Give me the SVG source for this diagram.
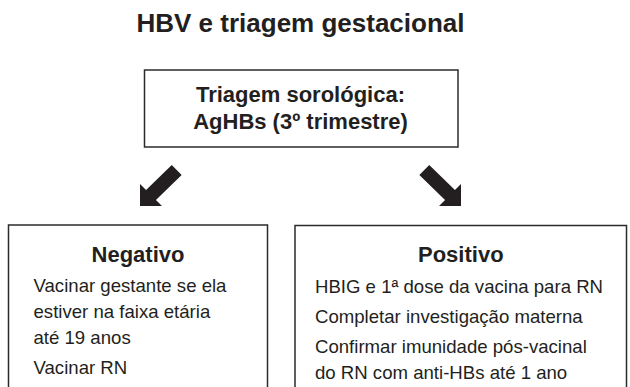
<svg xmlns="http://www.w3.org/2000/svg" width="630" height="387" viewBox="0 0 630 387">
  <style>
    .box { fill: #ffffff; stroke: #2b2b2b; stroke-width: 1.5; }
    .arrow { fill: #231f20; stroke: none; }
    text { font-family: "Liberation Sans", Arial, sans-serif; fill: #231f20; }
    .title { font-size: 26px; font-weight: bold; text-anchor: middle; }
    .head { font-size: 22px; font-weight: bold; text-anchor: middle; }
    .body { font-size: 18.6px; }
  </style>
  <rect width="630" height="387" fill="#ffffff"/>
  <g id="title">
    <text class="title" x="300.5" y="32">HBV e triagem gestacional</text>
  </g>
  <g id="connectors">
    <polygon class="arrow" points="171.75,165.05 181.65,174.95 155.95,199.95 162,206 140,206 140,184 146.05,190.05"/>
    <polygon class="arrow" points="429.25,165.05 419.35,174.95 445.05,199.95 439,206 461,206 461,184 454.95,190.05"/>
  </g>
  <g id="node-triagem">
    <rect class="box" x="144.5" y="70" width="313.5" height="77"/>
    <text class="head" x="300.5" y="101.5">Triagem sorológica:</text>
    <text class="head" x="300.5" y="129">AgHBs (3º trimestre)</text>
  </g>
  <g id="node-negativo">
    <rect class="box" x="8.5" y="225" width="259" height="200"/>
    <text class="head" x="138" y="262">Negativo</text>
    <text class="body" x="33.5" y="292">Vacinar gestante se ela</text>
    <text class="body" x="33.5" y="318">estiver na faixa etária</text>
    <text class="body" x="33.5" y="344">até 19 anos</text>
    <text class="body" x="33.5" y="374">Vacinar RN</text>
  </g>
  <g id="node-positivo">
    <rect class="box" x="295" y="225.5" width="331.5" height="200"/>
    <text class="head" x="460.8" y="262">Positivo</text>
    <text class="body" x="315" y="293">HBIG e 1ª dose da vacina para RN</text>
    <text class="body" x="315" y="323">Completar investigação materna</text>
    <text class="body" x="315" y="353">Confirmar imunidade pós-vacinal</text>
    <text class="body" x="315" y="379">do RN com anti-HBs até 1 ano</text>
  </g>
</svg>
